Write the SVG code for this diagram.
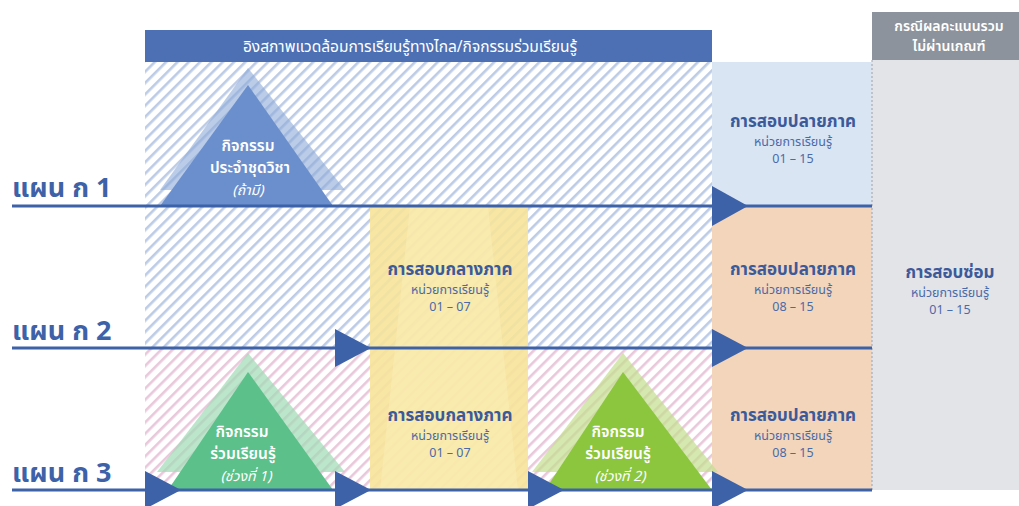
<svg xmlns="http://www.w3.org/2000/svg" width="1019" height="506" viewBox="0 0 1019 506">
<defs>
<pattern id="hb" width="8" height="8" patternUnits="userSpaceOnUse" patternTransform="rotate(45)">
<rect width="8" height="8" fill="#ffffff"/>
<rect width="2.6" height="8" fill="#bccbe6"/>
</pattern>
<pattern id="hp" width="8" height="8" patternUnits="userSpaceOnUse" patternTransform="rotate(45)">
<rect width="8" height="8" fill="#ffffff"/>
<rect width="2.6" height="8" fill="#e8c8da"/>
</pattern>
<style>
text{font-family:"Noto Sans Thai","Noto Sans","DejaVu Sans",sans-serif;text-anchor:middle}
.plan{font-size:27px;font-weight:bold;fill:#3d62a8;text-anchor:start}
.h{font-size:17px;font-weight:bold;fill:#3c5a9a}
.s{font-size:12.5px;fill:#4a6aa8}
.tw{font-size:15.5px;fill:#ffffff;font-weight:600}
.ti{font-size:14px;fill:#ffffff;font-style:italic}
.line{stroke:#3d62a8;stroke-width:3}
.arr{fill:#3d62a8}
</style>
</defs>
<rect width="1019" height="506" fill="#ffffff"/>
<g id="background">
<rect x="145" y="62" width="567" height="288" fill="url(#hb)"/>
<rect x="145" y="350" width="567" height="140" fill="url(#hp)"/>
<rect x="712" y="62" width="160" height="144" fill="#dae5f4"/>
<rect x="712" y="206" width="160" height="284" fill="#f3d5bb"/>
<rect x="872" y="60" width="147" height="430" fill="#e3e4e8"/>
<line x1="872" y1="60" x2="872" y2="490" stroke="#9aa0ad" stroke-width="1" stroke-dasharray="2,2"/>
</g>
<g id="banner">
<rect x="145" y="30" width="567" height="32" fill="#4c70b3"/>
<text x="410" y="52" style="font-size:15.5px;fill:#ffffff">อิงสภาพแวดล้อมการเรียนรู้ทางไกล/กิจกรรมร่วมเรียนรู้</text>
</g>
<g id="header-fail">
<rect x="872" y="12" width="147" height="48" fill="#8d939c"/>
<text x="949" y="31" style="font-size:14px;font-weight:600;fill:#ffffff">กรณีผลคะแนนรวม</text>
<text x="949" y="51" style="font-size:14px;font-weight:600;fill:#ffffff">ไม่ผ่านเกณฑ์</text>
</g>
<g id="midterm-column">
<rect x="370" y="206" width="158" height="284" fill="#f6e39a" opacity="0.9"/>
<polygon points="410,206 488,206 518,490 380,490" fill="#faedb4" opacity="0.6"/>
</g>
<g id="activity-1">
<polygon points="248,68 345,190 160,190" fill="#8eaad8" opacity="0.6"/>
<polygon points="248,85 333,206 160,206" fill="#6b8fcc"/>
<text x="248" y="151" class="tw">กิจกรรม</text>
<text x="250" y="173" class="tw">ประจำชุดวิชา</text>
<text x="248" y="195" class="ti">(ถ้ามี)</text>
</g>
<g id="activity-2">
<polygon points="248,353 345,472 157,472" fill="#9fdcb5" opacity="0.7"/>
<polygon points="248,372 333,490 168,490" fill="#5cc08a"/>
<text x="242" y="437" class="tw">กิจกรรม</text>
<text x="243" y="459" class="tw">ร่วมเรียนรู้</text>
<text x="246" y="481" class="ti">(ช่วงที่ 1)</text>
</g>
<g id="activity-3">
<polygon points="623,353 718,472 532,472" fill="#c3de8e" opacity="0.7"/>
<polygon points="623,372 712,490 545,490" fill="#8cc63f"/>
<text x="618" y="437" class="tw">กิจกรรม</text>
<text x="618" y="459" class="tw">ร่วมเรียนรู้</text>
<text x="620" y="481" class="ti">(ช่วงที่ 2)</text>
</g>
<g id="final-1">
<text x="793" y="127" class="h">การสอบปลายภาค</text>
<text x="793" y="146" class="s">หน่วยการเรียนรู้</text>
<text x="793" y="163" class="s">01 – 15</text>
</g>
<g id="mid-2">
<text x="450" y="275" class="h">การสอบกลางภาค</text>
<text x="450" y="294" class="s">หน่วยการเรียนรู้</text>
<text x="450" y="311" class="s">01 – 07</text>
</g>
<g id="final-2">
<text x="793" y="275" class="h">การสอบปลายภาค</text>
<text x="793" y="294" class="s">หน่วยการเรียนรู้</text>
<text x="793" y="311" class="s">08 – 15</text>
</g>
<g id="mid-3">
<text x="450" y="421" class="h">การสอบกลางภาค</text>
<text x="450" y="440" class="s">หน่วยการเรียนรู้</text>
<text x="450" y="457" class="s">01 – 07</text>
</g>
<g id="final-3">
<text x="793" y="421" class="h">การสอบปลายภาค</text>
<text x="793" y="440" class="s">หน่วยการเรียนรู้</text>
<text x="793" y="457" class="s">08 – 15</text>
</g>
<g id="makeup">
<text x="950" y="278" class="h">การสอบซ่อม</text>
<text x="950" y="297" class="s">หน่วยการเรียนรู้</text>
<text x="950" y="314" class="s">01 – 15</text>
</g>
<g id="plan-labels">
<text x="12" y="197" class="plan">แผน ก 1</text>
<text x="12" y="340" class="plan">แผน ก 2</text>
<text x="12" y="482" class="plan">แผน ก 3</text>
</g>
<g id="connectors">
<line x1="12" y1="206" x2="872" y2="206" class="line"/>
<line x1="12" y1="348" x2="872" y2="348" class="line"/>
<line x1="12" y1="490" x2="872" y2="490" class="line"/>
<polygon points="712,186 748,206 712,226" class="arr"/>
<polygon points="335,329 371,348 335,367" class="arr"/>
<polygon points="712,329 748,348 712,367" class="arr"/>
<polygon points="145,471 181,490 145,509" class="arr"/>
<polygon points="335,471 371,490 335,509" class="arr"/>
<polygon points="528,471 564,490 528,509" class="arr"/>
<polygon points="712,471 748,490 712,509" class="arr"/>
</g>
</svg>
